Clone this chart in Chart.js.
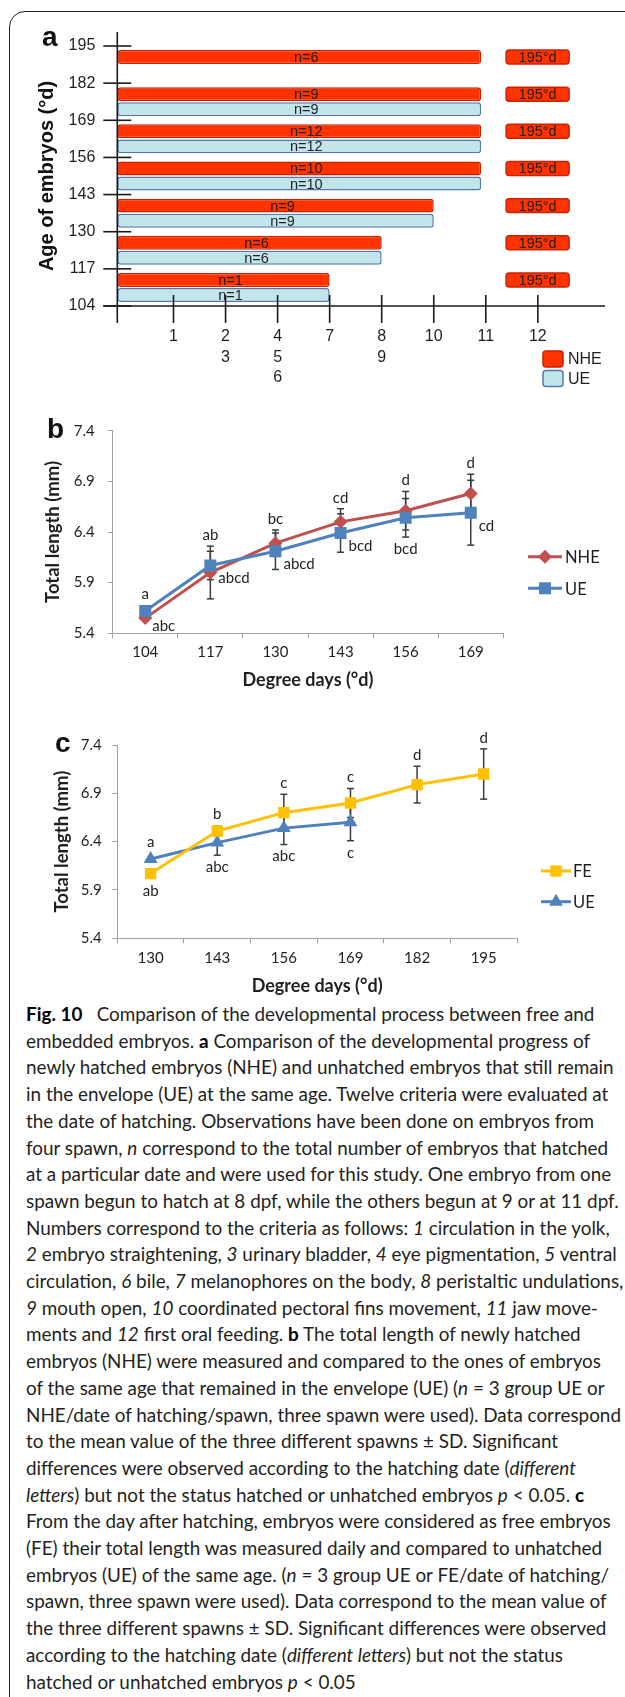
<!DOCTYPE html>
<html>
<head>
<meta charset="utf-8">
<script src="https://cdn.jsdelivr.net/npm/chart.js@4.4.1/dist/chart.umd.min.js"></script>
<style>
  html, body { margin: 0; padding: 0; background: #fff; }
  body { width: 625px; height: 1697px; position: relative; overflow: hidden; }
  .frame { position: absolute; left: 9px; top: 11px; width: 720px; height: 1800px; border: 1.5px solid #222; border-radius: 16px; }
  canvas { position: absolute; left: 0; }
  .panel { position: absolute; font: bold 28px 'Liberation Sans', Arial, sans-serif; line-height: 28px; color: #111; }
  #caption { position: absolute; left: 26px; top: 1001px; font-family: Lato, sans-serif; font-size: 18.5px; line-height: 26.7px; color: #231f20; transform-origin: 0 0; white-space: nowrap; }
  #caption div { width: max-content; }
  #caption b { color: #000; }
</style>
</head>
<body>
<div class="frame"></div>
<canvas id="chartA" width="625" height="400" style="top:0"></canvas>
<canvas id="chartB" width="625" height="320" style="top:380px"></canvas>
<canvas id="chartC" width="625" height="300" style="top:700px"></canvas>
<div class="panel" style="left:42px; top:23px">a</div>
<div class="panel" style="left:47px; top:415px">b</div>
<div class="panel" style="left:55px; top:729px">c</div>

<div id="caption">
<div><b>Fig. 10</b>&ensp; Comparison of the developmental process between free and</div>
<div>embedded embryos. <b>a</b> Comparison of the developmental progress of</div>
<div>newly hatched embryos (NHE) and unhatched embryos that still remain</div>
<div>in the envelope (UE) at the same age. Twelve criteria were evaluated at</div>
<div>the date of hatching. Observations have been done on embryos from</div>
<div>four spawn, <i>n</i> correspond to the total number of embryos that hatched</div>
<div>at a particular date and were used for this study. One embryo from one</div>
<div>spawn begun to hatch at 8 dpf, while the others begun at 9 or at 11 dpf.</div>
<div>Numbers correspond to the criteria as follows: <i>1</i> circulation in the yolk,</div>
<div><i>2</i> embryo straightening, <i>3</i> urinary bladder, <i>4</i> eye pigmentation, <i>5</i> ventral</div>
<div>circulation, <i>6</i> bile, <i>7</i> melanophores on the body, <i>8</i> peristaltic undulations,</div>
<div><i>9</i> mouth open, <i>10</i> coordinated pectoral fins movement, <i>11</i> jaw move-</div>
<div>ments and <i>12</i> first oral feeding. <b>b</b> The total length of newly hatched</div>
<div>embryos (NHE) were measured and compared to the ones of embryos</div>
<div>of the same age that remained in the envelope (UE) (<i>n</i> = 3 group UE or</div>
<div>NHE/date of hatching/spawn, three spawn were used). Data correspond</div>
<div>to the mean value of the three different spawns ± SD. Significant</div>
<div>differences were observed according to the hatching date (<i>different</i></div>
<div><i>letters</i>) but not the status hatched or unhatched embryos <i>p</i> &lt; 0.05. <b>c</b></div>
<div>From the day after hatching, embryos were considered as free embryos</div>
<div>(FE) their total length was measured daily and compared to unhatched</div>
<div>embryos (UE) of the same age. (<i>n</i> = 3 group UE or FE/date of hatching/</div>
<div>spawn, three spawn were used). Data correspond to the mean value of</div>
<div>the three different spawns ± SD. Significant differences were observed</div>
<div>according to the hatching date (<i>different letters</i>) but not the status</div>
<div>hatched or unhatched embryos <i>p</i> &lt; 0.05</div>
</div>

<script>
// panel a: rows top to bottom, labelled by the tick above them
const ageRows = ['195', '182', '169', '156', '143', '130', '117'];
const ageTicks = [104, 117, 130, 143, 156, 169, 182, 195];
// criteria sit on x positions 1..8
const criteriaTicks = ['1', ['2', '3'], ['4', '5', '6'], '7', ['8', '9'], '10', '11', '12'];
const nheReach = [6.91, 6.91, 6.91, 6.91, 6, 5, 4];
const ueReach = [null, 6.91, 6.91, 6.91, 6, 5, 4];
const nheCount = [6, 9, 12, 10, 9, 6, 1];
const ueCount = [null, 9, 12, 10, 9, 6, 1];
const hatchSpan = [7.39, 8.6];
const hatchText = '195°d';

// panel b
const bDays = ['104', '117', '130', '143', '156', '169'];
const bNhe = [5.55, 6.00, 6.29, 6.50, 6.61, 6.78];
const bNheSd = [0, 0.26, 0.13, 0.13, 0.19, 0.19];
const bUe = [5.62, 6.07, 6.21, 6.39, 6.54, 6.59];
const bUeSd = [0, 0.14, 0.18, 0.19, 0.19, 0.32];
const bTopLetters = ['a', 'ab', 'bc', 'cd', 'd', 'd'];
const bLowLetters = ['abc', 'abcd', 'abcd', 'bcd', 'bcd', 'cd'];

// panel c
const cDays = ['130', '143', '156', '169', '182', '195'];
const cFe = [6.07, 6.51, 6.70, 6.80, 6.99, 7.10];
const cFeSd = [0, 0.05, 0.19, 0.15, 0.19, 0.26];
const cUe = [6.22, 6.39, 6.54, 6.60, null, null];
const cUeSd = [0, 0.13, 0.17, 0.19, null, null];
const cTopLetters = ['a', 'b', 'c', 'c', 'd', 'd'];
const cLowLetters = ['ab', 'abc', 'abc', 'c', '', ''];

const lengthTicks = [5.4, 5.9, 6.4, 6.9, 7.4];

const RED = '#ff3300', RED_EDGE = '#cc2200';
const CYAN = '#c2e5e9', CYAN_EDGE = '#5279ad';
const NHE_LINE = '#c0504d', UE_LINE = '#4f81bd', FE_LINE = '#ffc000';
const INK = '#1f1f1f', AXIS_GREY = '#a3a3a3';
const ARIAL = "'Liberation Sans', Arial, sans-serif";
const LATO = "Lato, 'Open Sans', sans-serif";

Chart.defaults.font.family = LATO;
Chart.defaults.color = INK;

function seg(ctx, ax, ay, bx, by) {
    ctx.beginPath();
    ctx.moveTo(ax, ay);
    ctx.lineTo(bx, by);
    ctx.stroke();
}

// n= labels, 195°d boxes, crossing axes and legend of panel a
const panelAExtras = {
    id: 'panelAExtras',
    afterDatasetsDraw(chart) {
        const { ctx, chartArea: area, scales } = chart;
        const xs = scales.x, ys = scales.yAge;
        ctx.save();
        ctx.textAlign = 'center';
        ctx.textBaseline = 'middle';

        const x0 = xs.getPixelForValue(hatchSpan[0]);
        const x1 = xs.getPixelForValue(hatchSpan[1]);
        chart.getDatasetMeta(0).data.forEach((bar) => {
            ctx.beginPath();
            ctx.roundRect(x0, bar.y - bar.height / 2, x1 - x0, bar.height, 3);
            ctx.fillStyle = RED;
            ctx.fill();
            ctx.lineWidth = 1.5;
            ctx.strokeStyle = RED_EDGE;
            ctx.stroke();
            ctx.font = `14.5px ${ARIAL}`;
            ctx.fillStyle = INK;
            ctx.fillText(hatchText, (x0 + x1) / 2, bar.y + 1);
        });

        ctx.font = `14.5px ${ARIAL}`;
        ctx.fillStyle = INK;
        chart.data.datasets.forEach((ds, di) => {
            chart.getDatasetMeta(di).data.forEach((bar, i) => {
                if (ds.data[i] == null) return;
                ctx.fillText('n=' + ds.counts[i], (bar.x + bar.base) / 2 + 7, bar.y + 1);
            });
        });

        ctx.strokeStyle = '#1a1a1a';
        ctx.lineWidth = 1.6;
        seg(ctx, area.left, area.top - 14, area.left, area.bottom + 17);
        seg(ctx, area.left - 14, area.bottom, area.right, area.bottom);
        ys.ticks.forEach((t) => {
            const y = ys.getPixelForValue(t.value);
            seg(ctx, area.left - 14, y, area.left + 14, y);
        });
        xs.ticks.forEach((t) => {
            const x = xs.getPixelForValue(t.value);
            seg(ctx, x, area.bottom - 11, x, area.bottom + 17);
        });

        // legend
        const rows = [359, 378.5];
        ctx.textAlign = 'left';
        ctx.font = `16px ${ARIAL}`;
        chart.data.datasets.forEach((ds, di) => {
            ctx.beginPath();
            ctx.roundRect(543, rows[di] - 8, 20, 16, 3);
            ctx.fillStyle = ds.backgroundColor;
            ctx.fill();
            ctx.lineWidth = 1.5;
            ctx.strokeStyle = ds.borderColor;
            ctx.stroke();
            ctx.fillStyle = INK;
            ctx.fillText(ds.label, 568, rows[di] + 1);
        });
        ctx.restore();
    }
};

// error bars, significance letters and legend for panels b and c
const lineExtras = {
    id: 'lineExtras',
    beforeDatasetsDraw(chart) {
        const { ctx } = chart;
        const ys = chart.scales.y;
        ctx.save();
        ctx.strokeStyle = '#3c3c3c';
        ctx.lineWidth = 1.5;
        chart.data.datasets.forEach((ds, di) => {
            chart.getDatasetMeta(di).data.forEach((pt, i) => {
                const v = ds.data[i], e = ds.errors[i];
                if (v == null || !e) return;
                const t = ys.getPixelForValue(v + e), b = ys.getPixelForValue(v - e);
                seg(ctx, pt.x, t, pt.x, b);
                seg(ctx, pt.x - 3.5, t, pt.x + 3.5, t);
                seg(ctx, pt.x - 3.5, b, pt.x + 3.5, b);
            });
        });
        ctx.restore();
    },
    afterDatasetsDraw(chart, args, opts) {
        const { ctx } = chart;
        const ys = chart.scales.y;
        ctx.save();
        ctx.font = `15px ${LATO}`;
        ctx.fillStyle = INK;
        ctx.textBaseline = 'middle';
        chart.data.labels.forEach((_, i) => {
            let hi = Infinity, lo = -Infinity, x = 0;
            chart.data.datasets.forEach((ds, di) => {
                const v = ds.data[i];
                if (v == null) return;
                const pt = chart.getDatasetMeta(di).data[i];
                const e = ds.errors[i] || 0;
                x = pt.x;
                hi = Math.min(hi, ys.getPixelForValue(v + e), pt.y - 6);
                lo = Math.max(lo, ys.getPixelForValue(v - e), pt.y + 6);
            });
            ctx.textAlign = 'center';
            ctx.fillText(opts.top[i], x, hi - 11);
            const mode = opts.lowMode ? opts.lowMode[i] : 'below';
            if (mode === 'right') {
                const ref = chart.getDatasetMeta(opts.lowRef).data[i];
                ctx.textAlign = 'left';
                ctx.fillText(opts.low[i], x + 8, ref.y + 13);
            } else if (mode === 'belowRight') {
                ctx.textAlign = 'left';
                ctx.fillText(opts.low[i], x + 7, lo + 2);
            } else {
                ctx.fillText(opts.low[i], x, lo + 12);
            }
        });

        const lg = opts.legend;
        ctx.font = `16.5px ${LATO}`;
        ctx.textAlign = 'left';
        chart.data.datasets.forEach((ds, di) => {
            const y = lg.rows[di];
            ctx.strokeStyle = ds.borderColor;
            ctx.fillStyle = ds.backgroundColor;
            ctx.lineWidth = 3;
            seg(ctx, lg.from, y, lg.to, y);
            Chart.helpers.drawPoint(ctx, { pointStyle: ds.pointStyle, radius: ds.pointRadius, rotation: 0, borderWidth: 0 }, (lg.from + lg.to) / 2, y);
            ctx.fillStyle = INK;
            ctx.fillText(ds.label, lg.text, y + 1);
        });
        ctx.restore();
    }
};

new Chart(document.getElementById('chartA'), {
    type: 'bar',
    data: {
        labels: ageRows,
        datasets: [
            { label: 'NHE', data: nheReach, counts: nheCount, backgroundColor: RED, borderColor: RED_EDGE },
            { label: 'UE', data: ueReach, counts: ueCount, backgroundColor: CYAN, borderColor: CYAN_EDGE }
        ]
    },
    options: {
        indexAxis: 'y',
        responsive: false,
        animation: false,
        events: [],
        datasets: {
            bar: { borderWidth: 1.5, borderRadius: 3, borderSkipped: false, base: -0.08, categoryPercentage: 0.81, barPercentage: 0.93 }
        },
        layout: { padding: { top: 46, right: 20, left: 0, bottom: 0 } },
        plugins: { legend: { display: false }, tooltip: { enabled: false } },
        scales: {
            x: {
                type: 'linear', min: -0.08, max: 9.29,
                afterBuildTicks: (s) => { s.ticks = criteriaTicks.map((_, i) => ({ value: i + 1 })); },
                ticks: { callback: (v, i) => criteriaTicks[i], font: { family: ARIAL, size: 16, lineHeight: 1.3 }, color: INK, padding: 20, maxRotation: 0, autoSkip: false },
                grid: { display: false, drawTicks: false },
                border: { display: false },
                afterFit: (s) => { s.height = 94; }
            },
            y: { type: 'category', display: false, offset: true },
            yAge: {
                type: 'linear', position: 'left', min: 104, max: 195, offset: false,
                afterBuildTicks: (s) => { s.ticks = ageTicks.map((v) => ({ value: v })); },
                ticks: { font: { family: ARIAL, size: 16 }, color: INK, padding: 22 },
                grid: { display: false, drawTicks: false, offset: false },
                border: { display: false },
                title: { display: true, text: 'Age of embryos (°d)', font: { family: ARIAL, size: 20, weight: 'bold' }, color: '#111', padding: { top: 35, bottom: 0 } },
                afterFit: (s) => { s.width = 117.3; }
            }
        }
    },
    plugins: [panelAExtras]
});

function lengthAxis(titlePad, width) {
    return {
        min: 5.4, max: 7.4,
        afterBuildTicks: (s) => { s.ticks = lengthTicks.map((v) => ({ value: v })); },
        ticks: { font: { size: 15 }, color: INK, padding: width > 115 ? 10.6 : 13, callback: (v) => v.toFixed(1) },
        grid: { drawOnChartArea: false, tickLength: 5, color: AXIS_GREY },
        border: { color: AXIS_GREY },
        title: { display: true, text: 'Total length (mm)', font: { size: 18.5, weight: 'bold' }, color: INK, padding: { top: titlePad, bottom: 0 } },
        afterFit: (s) => { s.width = width; }
    };
}

function daysAxis(labelPad, titlePad, height) {
    return {
        offset: true,
        grid: { offset: true, drawOnChartArea: false, tickLength: 5, color: AXIS_GREY },
        border: { color: AXIS_GREY },
        ticks: { font: { size: 15 }, color: INK, padding: labelPad, maxRotation: 0 },
        title: { display: true, text: 'Degree days (°d)', font: { size: 18, weight: 'bold' }, color: INK, padding: { top: 0, bottom: titlePad } },
        afterFit: (s) => { s.height = height; }
    };
}

new Chart(document.getElementById('chartB'), {
    type: 'line',
    data: {
        labels: bDays,
        datasets: [
            { label: 'NHE', data: bNhe, errors: bNheSd, borderColor: NHE_LINE, backgroundColor: NHE_LINE, pointStyle: 'rectRot', pointRadius: 7, order: 1 },
            { label: 'UE', data: bUe, errors: bUeSd, borderColor: UE_LINE, backgroundColor: UE_LINE, pointStyle: 'rect', pointRadius: 8.5, order: 0 }
        ]
    },
    options: {
        responsive: false,
        animation: false,
        events: [],
        datasets: { line: { borderWidth: 3, tension: 0, pointBorderWidth: 0 } },
        layout: { padding: { top: 50.7, right: 121.7, left: 0, bottom: 0 } },
        plugins: {
            legend: { display: false },
            tooltip: { enabled: false },
            lineExtras: {
                top: bTopLetters,
                low: bLowLetters,
                lowMode: ['belowRight', 'right', 'right', 'right', 'below', 'right'],
                lowRef: 1,
                legend: { from: 528, to: 562, text: 565, rows: [176.7, 208.3] }
            }
        },
        scales: {
            x: daysAxis(5, 9.2, 66.7),
            y: lengthAxis(42.4, 112.7)
        }
    },
    plugins: [lineExtras]
});

new Chart(document.getElementById('chartC'), {
    type: 'line',
    data: {
        labels: cDays,
        datasets: [
            { label: 'FE', data: cFe, errors: cFeSd, borderColor: FE_LINE, backgroundColor: FE_LINE, pointStyle: 'rect', pointRadius: 8 },
            { label: 'UE', data: cUe, errors: cUeSd, borderColor: UE_LINE, backgroundColor: UE_LINE, pointStyle: 'triangle', pointRadius: 8 }
        ]
    },
    options: {
        responsive: false,
        animation: false,
        events: [],
        datasets: { line: { borderWidth: 3, tension: 0, pointBorderWidth: 0 } },
        layout: { padding: { top: 45, right: 108, left: 0, bottom: 0 } },
        plugins: {
            legend: { display: false },
            tooltip: { enabled: false },
            lineExtras: {
                top: cTopLetters,
                low: cLowLetters,
                legend: { from: 541, to: 571, text: 573, rows: [171, 201.7] }
            }
        },
        scales: {
            x: daysAxis(6, 3.2, 61.7),
            y: lengthAxis(51.4, 117.3)
        }
    },
    plugins: [lineExtras]
});

// squeeze the caption so its widest line spans the column like the printed one
const caption = document.getElementById('caption');
const refLine = caption.children[2];
caption.style.transform = `scaleX(${587.3 / refLine.offsetWidth})`;
</script>
</body>
</html>
